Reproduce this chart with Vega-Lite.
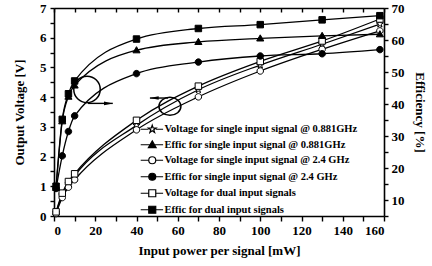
{
  "$schema": "https://vega.github.io/schema/vega-lite/v6.json",
  "width": 330,
  "height": 208,
  "autosize": {"type": "none"},
  "padding": {"left": 54, "top": 8, "right": 48, "bottom": 50},
  "background": "white",
  "config": {
    "font": "Liberation Serif",
    "view": {"stroke": null},
    "axis": {
      "domainColor": "black", "domainWidth": 1.6, "tickColor": "black", "tickWidth": 1.4,
      "labelColor": "black", "titleColor": "black", "labelFont": "Liberation Serif", "titleFont": "Liberation Serif",
      "labelFontWeight": "bold", "titleFontWeight": "bold", "labelFontSize": 13, "titleFontSize": 13, "grid": false
    },
    "legend": {
      "orient": "none", "legendX": 93, "legendY": 116, "title": null, "padding": 0,
      "labelFont": "Liberation Serif", "labelFontWeight": "bold", "labelFontSize": 10.5, "labelColor": "black",
      "labelOffset": 7, "rowPadding": 3.5, "symbolSize": 49, "symbolStrokeColor": "black", "symbolStrokeWidth": 1.2, "labelLimit": 300
    }
  },
  "datasets": {
    "curves": [
      {"s": "Voltage for single input signal @ 0.881GHz", "q": "V", "x": 1, "v": 0.12},
      {"s": "Voltage for single input signal @ 0.881GHz", "q": "V", "x": 4, "v": 0.7},
      {"s": "Voltage for single input signal @ 0.881GHz", "q": "V", "x": 7, "v": 1.08},
      {"s": "Voltage for single input signal @ 0.881GHz", "q": "V", "x": 10, "v": 1.36},
      {"s": "Voltage for single input signal @ 0.881GHz", "q": "V", "x": 40, "v": 3.05},
      {"s": "Voltage for single input signal @ 0.881GHz", "q": "V", "x": 70, "v": 4.25},
      {"s": "Voltage for single input signal @ 0.881GHz", "q": "V", "x": 100, "v": 5.08},
      {"s": "Voltage for single input signal @ 0.881GHz", "q": "V", "x": 130, "v": 5.78},
      {"s": "Voltage for single input signal @ 0.881GHz", "q": "V", "x": 158, "v": 6.46},
      {"s": "Effic for single input signal @ 0.881GHz", "q": "E", "x": 1, "v": 13.8},
      {"s": "Effic for single input signal @ 0.881GHz", "q": "E", "x": 4, "v": 34.6},
      {"s": "Effic for single input signal @ 0.881GHz", "q": "E", "x": 7, "v": 42.3},
      {"s": "Effic for single input signal @ 0.881GHz", "q": "E", "x": 10, "v": 45.8},
      {"s": "Effic for single input signal @ 0.881GHz", "q": "E", "x": 40, "v": 56.8},
      {"s": "Effic for single input signal @ 0.881GHz", "q": "E", "x": 70, "v": 59.4},
      {"s": "Effic for single input signal @ 0.881GHz", "q": "E", "x": 100, "v": 60.5},
      {"s": "Effic for single input signal @ 0.881GHz", "q": "E", "x": 130, "v": 61.3},
      {"s": "Effic for single input signal @ 0.881GHz", "q": "E", "x": 158, "v": 61.8},
      {"s": "Voltage for single input signal @ 2.4 GHz", "q": "V", "x": 1, "v": 0.08},
      {"s": "Voltage for single input signal @ 2.4 GHz", "q": "V", "x": 4, "v": 0.62},
      {"s": "Voltage for single input signal @ 2.4 GHz", "q": "V", "x": 7, "v": 0.97},
      {"s": "Voltage for single input signal @ 2.4 GHz", "q": "V", "x": 10, "v": 1.22},
      {"s": "Voltage for single input signal @ 2.4 GHz", "q": "V", "x": 40, "v": 2.9},
      {"s": "Voltage for single input signal @ 2.4 GHz", "q": "V", "x": 70, "v": 4.01},
      {"s": "Voltage for single input signal @ 2.4 GHz", "q": "V", "x": 100, "v": 4.88},
      {"s": "Voltage for single input signal @ 2.4 GHz", "q": "V", "x": 130, "v": 5.61},
      {"s": "Voltage for single input signal @ 2.4 GHz", "q": "V", "x": 158, "v": 6.23},
      {"s": "Effic for single input signal @ 2.4 GHz", "q": "E", "x": 1, "v": 13.6},
      {"s": "Effic for single input signal @ 2.4 GHz", "q": "E", "x": 4, "v": 23.8},
      {"s": "Effic for single input signal @ 2.4 GHz", "q": "E", "x": 7, "v": 31.4},
      {"s": "Effic for single input signal @ 2.4 GHz", "q": "E", "x": 10, "v": 36.3},
      {"s": "Effic for single input signal @ 2.4 GHz", "q": "E", "x": 40, "v": 49.5},
      {"s": "Effic for single input signal @ 2.4 GHz", "q": "E", "x": 70, "v": 53.1},
      {"s": "Effic for single input signal @ 2.4 GHz", "q": "E", "x": 100, "v": 55.0},
      {"s": "Effic for single input signal @ 2.4 GHz", "q": "E", "x": 130, "v": 55.7},
      {"s": "Effic for single input signal @ 2.4 GHz", "q": "E", "x": 158, "v": 57.0},
      {"s": "Voltage for dual input signals", "q": "V", "x": 1, "v": 0.14},
      {"s": "Voltage for dual input signals", "q": "V", "x": 4, "v": 0.77},
      {"s": "Voltage for dual input signals", "q": "V", "x": 7, "v": 1.16},
      {"s": "Voltage for dual input signals", "q": "V", "x": 10, "v": 1.42},
      {"s": "Voltage for dual input signals", "q": "V", "x": 40, "v": 3.22},
      {"s": "Voltage for dual input signals", "q": "V", "x": 70, "v": 4.37},
      {"s": "Voltage for dual input signals", "q": "V", "x": 100, "v": 5.2},
      {"s": "Voltage for dual input signals", "q": "V", "x": 130, "v": 5.89},
      {"s": "Voltage for dual input signals", "q": "V", "x": 158, "v": 6.63},
      {"s": "Effic for dual input signals", "q": "E", "x": 1, "v": 14.3},
      {"s": "Effic for dual input signals", "q": "E", "x": 4, "v": 35.2},
      {"s": "Effic for dual input signals", "q": "E", "x": 7, "v": 43.2},
      {"s": "Effic for dual input signals", "q": "E", "x": 10, "v": 47.2},
      {"s": "Effic for dual input signals", "q": "E", "x": 40, "v": 60.3},
      {"s": "Effic for dual input signals", "q": "E", "x": 70, "v": 63.6},
      {"s": "Effic for dual input signals", "q": "E", "x": 100, "v": 64.8},
      {"s": "Effic for dual input signals", "q": "E", "x": 130, "v": 66.3},
      {"s": "Effic for dual input signals", "q": "E", "x": 158, "v": 67.6}
    ],
    "notes": [
      {"n": "ring", "x": 16, "v": 4.26},
      {"n": "oval", "x": 56.2, "v": 3.69},
      {"n": "arrowR", "x": 16.5, "x2": 28.5, "v": 3.79},
      {"n": "arrowL", "x": 55.3, "x2": 46.5, "v": 3.97}
    ]
  },
  "layer": [
    {
      "encoding": {
        "x": {"field": "x", "type": "quantitative", "scale": {"domain": [0, 160], "nice": false, "zero": false},
          "axis": {"orient": "bottom", "values": [0,10,20,30,40,50,60,70,80,90,100,110,120,130,140,150,160],
            "labelExpr": "datum.value % 20 == 0 ? datum.label : ''", "tickSize": 5, "labelPadding": 3,
            "title": "Input power per signal [mW]", "titlePadding": 7}},
        "y": {"field": "v", "type": "quantitative", "scale": {"domain": [0, 7], "nice": false, "zero": false},
          "axis": {"orient": "left", "values": [0,0.5,1,1.5,2,2.5,3,3.5,4,4.5,5,5.5,6,6.5,7],
            "labelExpr": "datum.value % 1 == 0 ? format(datum.value, 'd') : ''", "tickSize": 4, "labelPadding": 4,
            "title": "Output Voltage [V]", "titlePadding": 13}}
      },
      "layer": [
        {
          "data": {"name": "curves"},
          "transform": [{"filter": "datum.q == 'V'"}],
          "mark": {"type": "line", "color": "black", "strokeWidth": 1.3, "interpolate": "monotone"},
          "encoding": {"detail": {"field": "s"}}
        },
        {
          "data": {"name": "curves"},
          "transform": [{"filter": "datum.q == 'V'"}],
          "mark": {"type": "point", "filled": true, "size": 42, "stroke": "black", "strokeWidth": 1, "opacity": 1},
          "encoding": {
            "shape": {"field": "s", "type": "nominal", "legend": null, "scale": {
              "domain": ["Voltage for single input signal @ 0.881GHz", "Effic for single input signal @ 0.881GHz", "Voltage for single input signal @ 2.4 GHz", "Effic for single input signal @ 2.4 GHz", "Voltage for dual input signals", "Effic for dual input signals"],
              "range": ["M0,-1.15 L0.265,-0.364 L1.094,-0.355 L0.428,0.139 L0.676,0.93 L0,0.45 L-0.676,0.93 L-0.428,0.139 L-1.094,-0.355 L-0.265,-0.364 Z", "M0,-1.1 L1.1,0.8 L-1.1,0.8 Z", "M1,0 A1,1 0 1,1 -1,0 A1,1 0 1,1 1,0 Z", "M1,0 A1,1 0 1,1 -1,0 A1,1 0 1,1 1,0 Z", "M-1,-1 L1,-1 L1,1 L-1,1 Z", "M-1,-1 L1,-1 L1,1 L-1,1 Z"]}},
            "fill": {"field": "s", "type": "nominal", "legend": null, "scale": {
              "domain": ["Voltage for single input signal @ 0.881GHz", "Effic for single input signal @ 0.881GHz", "Voltage for single input signal @ 2.4 GHz", "Effic for single input signal @ 2.4 GHz", "Voltage for dual input signals", "Effic for dual input signals"],
              "range": ["white", "black", "white", "black", "white", "black"]}}
          }
        },
        {
          "data": {"name": "notes"},
          "transform": [{"filter": "datum.n == 'ring'"}],
          "mark": {"type": "point", "shape": "circle", "size": 700, "filled": false, "stroke": "black", "strokeWidth": 1.5, "opacity": 1}
        },
        {
          "data": {"name": "notes"},
          "transform": [{"filter": "datum.n == 'oval'"}],
          "mark": {"type": "point", "shape": "M-1,0 A1,0.82 0 1,1 1,0 A1,0.82 0 1,1 -1,0 Z", "size": 484, "filled": false, "stroke": "black", "strokeWidth": 1.5, "opacity": 1}
        },
        {
          "data": {"name": "notes"},
          "transform": [{"filter": "datum.n == 'arrowR' || datum.n == 'arrowL'"}],
          "mark": {"type": "rule", "color": "black", "strokeWidth": 1.4},
          "encoding": {"x2": {"field": "x2"}}
        },
        {
          "data": {"name": "notes"},
          "transform": [{"filter": "datum.n == 'arrowR'"}],
          "mark": {"type": "point", "shape": "M0,0 L-2.2,-0.45 L-2.2,0.45 Z", "size": 64, "filled": true, "color": "black", "opacity": 1},
          "encoding": {"x": {"field": "x2", "type": "quantitative"}}
        },
        {
          "data": {"name": "notes"},
          "transform": [{"filter": "datum.n == 'arrowL'"}],
          "mark": {"type": "point", "shape": "M0,0 L2.2,-0.45 L2.2,0.45 Z", "size": 64, "filled": true, "color": "black", "opacity": 1},
          "encoding": {"x": {"field": "x2", "type": "quantitative"}}
        }
      ]
    },
    {
      "encoding": {
        "x": {"field": "x", "type": "quantitative", "scale": {"domain": [0, 160], "nice": false, "zero": false},
          "axis": {"orient": "top", "values": [0,10,20,30,40,50,60,70,80,90,100,110,120,130,140,150,160],
            "labels": false, "tickSize": -4, "title": null}},
        "y": {"field": "v", "type": "quantitative", "scale": {"domain": [5, 70], "nice": false, "zero": false},
          "axis": {"orient": "right", "values": [5,10,15,20,25,30,35,40,45,50,55,60,65,70],
            "labelExpr": "datum.value % 10 == 0 ? datum.label : ''", "tickSize": 4, "labelPadding": 3,
            "title": "Efficiency [%]", "titlePadding": 8}}
      },
      "layer": [
        {
          "data": {"name": "curves"},
          "transform": [{"filter": "datum.q == 'E'"}],
          "mark": {"type": "line", "color": "black", "strokeWidth": 1.3, "interpolate": "monotone"},
          "encoding": {"detail": {"field": "s"}}
        },
        {
          "data": {"name": "curves"},
          "transform": [{"filter": "datum.q == 'E'"}],
          "mark": {"type": "point", "filled": true, "size": 42, "stroke": "black", "strokeWidth": 1, "opacity": 1},
          "encoding": {
            "shape": {"field": "s", "type": "nominal", "legend": null, "scale": {
              "domain": ["Voltage for single input signal @ 0.881GHz", "Effic for single input signal @ 0.881GHz", "Voltage for single input signal @ 2.4 GHz", "Effic for single input signal @ 2.4 GHz", "Voltage for dual input signals", "Effic for dual input signals"],
              "range": ["M0,-1.15 L0.265,-0.364 L1.094,-0.355 L0.428,0.139 L0.676,0.93 L0,0.45 L-0.676,0.93 L-0.428,0.139 L-1.094,-0.355 L-0.265,-0.364 Z", "M0,-1.1 L1.1,0.8 L-1.1,0.8 Z", "M1,0 A1,1 0 1,1 -1,0 A1,1 0 1,1 1,0 Z", "M1,0 A1,1 0 1,1 -1,0 A1,1 0 1,1 1,0 Z", "M-1,-1 L1,-1 L1,1 L-1,1 Z", "M-1,-1 L1,-1 L1,1 L-1,1 Z"]}},
            "fill": {"field": "s", "type": "nominal", "legend": null, "scale": {
              "domain": ["Voltage for single input signal @ 0.881GHz", "Effic for single input signal @ 0.881GHz", "Voltage for single input signal @ 2.4 GHz", "Effic for single input signal @ 2.4 GHz", "Voltage for dual input signals", "Effic for dual input signals"],
              "range": ["white", "black", "white", "black", "white", "black"]}}
          }
        }
      ]
    },
    {
      "data": {"name": "curves"},
      "transform": [{"filter": "datum.x < 0"}],
      "mark": {"type": "point", "filled": true, "size": 49, "strokeWidth": 1.2, "opacity": 1},
      "encoding": {
        "shape": {"field": "s", "type": "nominal", "scale": {
          "domain": ["Voltage for single input signal @ 0.881GHz", "Effic for single input signal @ 0.881GHz", "Voltage for single input signal @ 2.4 GHz", "Effic for single input signal @ 2.4 GHz", "Voltage for dual input signals", "Effic for dual input signals"],
          "range": [
            "M-3.3,0 L-1.05,0 M1.05,0 L3.1,0 M0,-1.15 L0.265,-0.364 L1.094,-0.355 L0.428,0.139 L0.676,0.93 L0,0.45 L-0.676,0.93 L-0.428,0.139 L-1.094,-0.355 L-0.265,-0.364 Z",
            "M-3.3,0 L3.1,0 M0,-1.1 L1.1,0.8 L-1.1,0.8 Z",
            "M-3.3,0 L-1,0 M1,0 L3.1,0 M1,0 A1,1 0 1,1 -1,0 A1,1 0 1,1 1,0 Z",
            "M-3.3,0 L3.1,0 M1,0 A1,1 0 1,1 -1,0 A1,1 0 1,1 1,0 Z",
            "M-3.3,0 L-1,0 M1,0 L3.1,0 M-1,-1 L1,-1 L1,1 L-1,1 Z",
            "M-3.3,0 L3.1,0 M-1,-1 L1,-1 L1,1 L-1,1 Z"]}},
        "fill": {"field": "s", "type": "nominal", "scale": {
          "domain": ["Voltage for single input signal @ 0.881GHz", "Effic for single input signal @ 0.881GHz", "Voltage for single input signal @ 2.4 GHz", "Effic for single input signal @ 2.4 GHz", "Voltage for dual input signals", "Effic for dual input signals"],
          "range": ["white", "black", "white", "black", "white", "black"]}},
        "stroke": {"field": "s", "type": "nominal", "scale": {
          "domain": ["Voltage for single input signal @ 0.881GHz", "Effic for single input signal @ 0.881GHz", "Voltage for single input signal @ 2.4 GHz", "Effic for single input signal @ 2.4 GHz", "Voltage for dual input signals", "Effic for dual input signals"],
          "range": ["black", "black", "black", "black", "black", "black"]}}
      }
    }
  ],
  "resolve": {
    "scale": {"y": "independent", "shape": "independent", "fill": "independent", "stroke": "independent"},
    "axis": {"x": "independent", "y": "independent"}
  }
}
